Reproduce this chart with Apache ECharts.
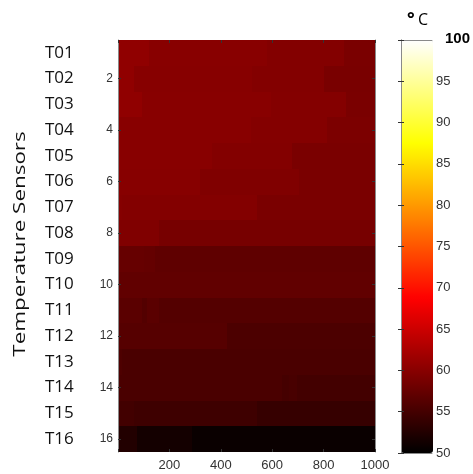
<!DOCTYPE html>
<html>
<head>
<meta charset="utf-8">
<script src="https://cdn.jsdelivr.net/npm/echarts@6/dist/echarts.min.js"></script>
<style>html,body{margin:0;padding:0;background:#fff}#c{width:473px;height:474px}</style>
</head>
<body>
<div id="c"></div>
<script>
// Sensor names (rows) and row numbers shown next to the plot
const sensors = ['T01','T02','T03','T04','T05','T06','T07','T08','T09','T10','T11','T12','T13','T14','T15','T16'];
const rowNumbers = ['1','2','3','4','5','6','7','8','9','10','11','12','13','14','15','16'];

// Each row: [xStart, xEnd, temperature °C] segments
const T01 = [[0,119,60.6],[119,580,60.0],[580,879,59.6],[879,1000,59.0]];
const T02 = [[0,61,60.6],[61,522,59.9],[522,801,59.6],[801,1000,58.9]];
const T03 = [[0,94,60.6],[94,594,60.0],[594,886,59.7],[886,1000,59.0]];
const T04 = [[0,516,60.0],[516,814,59.7],[814,1000,59.1]];
const T05 = [[0,366,60.0],[366,678,59.6],[678,1000,59.0]];
const T06 = [[0,321,59.9],[321,704,59.4],[704,1000,59.0]];
const T07 = [[0,15,59.8],[15,542,59.6],[542,1000,59.0]];
const T08 = [[0,158,59.4],[158,1000,58.75]];
const T09 = [[0,100,57.5],[100,145,57.35],[145,1000,57.0]];
const T10 = [[0,1000,57.1]];
const T11 = [[0,94,56.6],[94,113,56.1],[113,158,56.6],[158,1000,56.2]];
const T12 = [[0,425,56.3],[425,1000,55.6]];
const T13 = [[0,16,55.7],[16,1000,55.45]];
const T14 = [[0,639,55.45],[639,665,55.1],[665,697,55.3],[697,1000,54.9]];
const T15 = [[0,61,54.85],[61,542,54.55],[542,1000,54.0]];
const T16 = [[0,74,52.5],[74,288,51.5],[288,1000,50.7]];
const rows = [T01,T02,T03,T04,T05,T06,T07,T08,T09,T10,T11,T12,T13,T14,T15,T16];

// Colour scale
const tempMin = 50, tempMax = 100;
const hotColors = ['#000000','#550000','#aa0000','#ff0000','#ff5500','#ffaa00','#ffff00','#ffff80','#ffffff'];

const data = [];
rows.forEach((segs, r) => segs.forEach(s => data.push([s[0], s[1], r, s[2]])));

const chart = echarts.init(document.getElementById('c'));
const gray = '#8a8a8a';
const tickStyle = {show: true, inside: true, length: 3, lineStyle: {color: '#333', width: 1}};
const evenRow = (i) => i % 2 === 1;

chart.setOption({
  animation: false,
  grid: [
    {left: 118, top: 40, width: 257, height: 412},
    {left: 401, top: 40, width: 32, height: 413}
  ],
  xAxis: [
    {gridIndex: 0, type: 'value', min: 0, max: 1000, interval: 200, position: 'bottom', z: 5,
     axisLine: {lineStyle: {color: gray}}, axisTick: tickStyle, splitLine: {show: false},
     axisLabel: {color: '#333', fontSize: 13, fontFamily: 'Liberation Sans', margin: 7,
                 formatter: v => v === 0 ? '' : String(v)}},
    {gridIndex: 0, type: 'value', min: 0, max: 1000, interval: 200, position: 'top', z: 5,
     axisLine: {lineStyle: {color: gray}}, axisTick: tickStyle, splitLine: {show: false},
     axisLabel: {show: false}},
    {gridIndex: 1, type: 'value', min: 0, max: 1, position: 'bottom', z: 5,
     axisLine: {lineStyle: {color: gray}}, axisTick: {show: false}, splitLine: {show: false}, axisLabel: {show: false}},
    {gridIndex: 1, type: 'value', min: 0, max: 1, position: 'top', z: 5,
     axisLine: {lineStyle: {color: gray}}, axisTick: {show: false}, splitLine: {show: false}, axisLabel: {show: false}}
  ],
  yAxis: [
    {gridIndex: 0, type: 'category', data: rowNumbers, inverse: true, position: 'left', z: 5,
     axisLine: {lineStyle: {color: gray}},
     axisTick: Object.assign({}, tickStyle, {alignWithLabel: true, interval: evenRow}),
     axisLabel: {interval: evenRow, color: '#333', fontSize: 12, fontFamily: 'Liberation Sans', margin: 5}},
    {gridIndex: 0, type: 'category', data: sensors, inverse: true, position: 'left', z: 5,
     axisLine: {show: false}, axisTick: {show: false},
     axisLabel: {interval: 0, color: '#111', fontSize: 17, fontFamily: 'Open Sans', align: 'left', margin: 73}},
    {gridIndex: 0, type: 'category', data: rowNumbers, inverse: true, position: 'right', z: 5,
     axisLine: {lineStyle: {color: gray}},
     axisTick: Object.assign({}, tickStyle, {alignWithLabel: true, interval: evenRow}),
     axisLabel: {show: false}},
    {gridIndex: 1, type: 'value', min: tempMin, max: tempMax, interval: 5, position: 'right', z: 5,
     axisLine: {show: true, lineStyle: {color: gray}}, axisTick: tickStyle, splitLine: {show: false},
     axisLabel: {color: '#333', fontSize: 13, fontFamily: 'Liberation Sans', margin: 4,
                 formatter: v => v === 100 ? '{top|100}' : String(v),
                 rich: {top: {color: '#000', fontSize: 15, fontWeight: 'bold', fontFamily: 'Liberation Sans', padding: [0, 0, 2, 9]}}}},
    {gridIndex: 1, type: 'value', min: tempMin, max: tempMax, interval: 5, position: 'left', z: 5,
     axisLine: {show: true, lineStyle: {color: gray}}, axisTick: tickStyle, splitLine: {show: false},
     axisLabel: {show: false}}
  ],
  visualMap: {
    type: 'continuous', min: tempMin, max: tempMax, dimension: 3, seriesIndex: 0,
    orient: 'vertical', left: 401, top: 40, itemWidth: 32, itemHeight: 413,
    padding: 0, calculable: false, text: null, showLabel: false, hoverLink: false,
    inRange: {color: hotColors}
  },
  graphic: [
    {type: 'text', x: 20, y: 244, rotation: Math.PI / 2, scaleX: 1.4,
     style: {text: 'Temperature Sensors', font: '16px "Open Sans"', fill: '#111', align: 'center', verticalAlign: 'middle'}},
    {type: 'text', x: 407, y: 20,
     style: {text: '°', font: 'bold 18px "Open Sans"', fill: '#000', align: 'left', verticalAlign: 'middle'}},
    {type: 'text', x: 418, y: 20,
     style: {text: 'C', font: '16px "Open Sans"', fill: '#000', align: 'left', verticalAlign: 'middle'}}
  ],
  series: [{
    type: 'custom', xAxisIndex: 0, yAxisIndex: 0,
    encode: {x: [0, 1], y: 2},
    data: data,
    renderItem: function (params, api) {
      const r = api.value(2);
      const p0 = api.coord([api.value(0), r]);
      const p1 = api.coord([api.value(1), r]);
      const h = api.size([0, 1])[1];
      const x0 = Math.round(p0[0]), x1 = Math.round(p1[0]);
      const y0 = Math.round(p0[1] - h / 2), y1 = Math.round(p0[1] + h / 2);
      return {type: 'rect',
        shape: {x: x0, y: y0, width: x1 - x0, height: y1 - y0},
        style: {fill: api.visual('color')}};
    }
  }]
});
</script>
</body>
</html>
